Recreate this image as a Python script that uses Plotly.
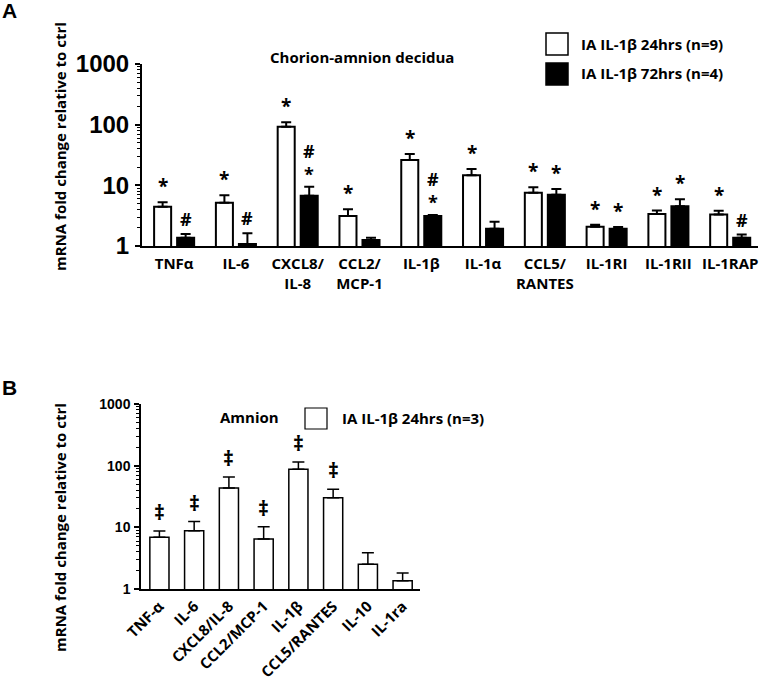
import math
import plotly.graph_objects as go

W, H = 764, 682

# ---------------- Panel A data (Chorion-amnion decidua) ----------------
cats_a = ["TNFα", "IL-6", "CXCL8/<br>IL-8", "CCL2/<br>MCP-1", "IL-1β", "IL-1α",
          "CCL5/<br>RANTES", "IL-1RI", "IL-1RII", "IL-1RAP"]
a24_mean = [4.45, 5.17, 92.5, 3.12, 26.1, 14.6, 7.56, 2.08, 3.37, 3.32]
a24_err = [0.80, 1.70, 17.5, 0.90, 6.70, 4.00, 1.70, 0.17, 0.46, 0.50]
a72_mean = [1.37, 1.08, 6.75, 1.26, 3.12, 1.93, 7.00, 1.93, 4.51, 1.37]
a72_err = [0.21, 0.54, 2.75, 0.11, 0.12, 0.59, 1.70, 0.13, 1.38, 0.17]
# symbols listed top to bottom
a24_sig = ["*", "*", "*", "*", "*", "*", "*", "*", "*", "*"]
a72_sig = ["#", "#", "#*", "", "#*", "", "*", "*", "*", "#"]
legend_a = ["IA IL-1β 24hrs (n=9)", "IA IL-1β 72hrs (n=4)"]

# ---------------- Panel B data (Amnion) ----------------
cats_b = ["TNF-α", "IL-6", "CXCL8/IL-8", "CCL2/MCP-1", "IL-1β", "CCL5/RANTES", "IL-10", "IL-1ra"]
b24_mean = [6.9, 8.8, 43.4, 6.47, 87.6, 30.3, 2.51, 1.36]
b24_err = [1.8, 3.6, 22.1, 3.73, 27.4, 11.1, 1.37, 0.46]
b24_sig = ["‡", "‡", "‡", "‡", "‡", "‡", "", ""]
legend_b = ["IA IL-1β 24hrs (n=3)"]

y_ticks = [1, 10, 100, 1000]
y_minor = [m * d for d in (1, 10, 100) for m in range(2, 10)]

CAL = "'Open Sans', Lato, sans-serif"
SIG = "'Open Sans', 'DejaVu Sans', sans-serif"
ARI = "'Liberation Sans', Arial, sans-serif"


def px(x):
    return x / W


def py(y):
    return 1 - y / H


# layout geometry (pixels)
A_x0, A_x1, A_y0, A_y1 = 142, 758, 64, 246
B_x0, B_x1, B_y0, B_y1 = 141, 420, 404, 589
A_range = [-0.52, 9.45]
B_range = [-0.53, 7.5]
A_bargap, A_groupgap = 0.255, 0.26

fig = go.Figure()

fig.add_trace(go.Bar(
    x=cats_a, y=a24_mean, name=legend_a[0], xaxis="x", yaxis="y",
    marker=dict(color="white", line=dict(color="black", width=2)),
    error_y=dict(type="data", symmetric=False, array=a24_err,
                 arrayminus=[0] * len(a24_err), color="black", thickness=2, width=5),
    showlegend=False,
))
fig.add_trace(go.Bar(
    x=cats_a, y=a72_mean, name=legend_a[1], xaxis="x", yaxis="y",
    marker=dict(color="black", line=dict(color="black", width=2)),
    error_y=dict(type="data", symmetric=False, array=a72_err,
                 arrayminus=[0] * len(a72_err), color="black", thickness=2, width=5),
    showlegend=False,
))
fig.add_trace(go.Bar(
    x=cats_b, y=b24_mean, name=legend_b[0], xaxis="x2", yaxis="y2",
    marker=dict(color="white", line=dict(color="black", width=1.5)),
    error_y=dict(type="data", symmetric=False, array=b24_err,
                 arrayminus=[0] * len(b24_err), color="black", thickness=1.5, width=6),
    showlegend=False,
))

annotations = []

# significance marks, panel A (stacked marks share one text element)
unit_a = (A_x1 - A_x0) / (A_range[1] - A_range[0])
slot = (1 - A_bargap) / 2 * unit_a
for series, means, errs, shift in ((a24_sig, a24_mean, a24_err, -slot / 2),
                                   (a72_sig, a72_mean, a72_err, slot / 2)):
    for c, s, m, e in zip(cats_a, series, means, errs):
        if not s:
            continue
        stacked = len(s) > 1
        annotations.append(dict(
            x=c, y=math.log10(m + e), xref="x", yref="y", text="<br>".join(s),
            showarrow=False, xshift=shift, xanchor="center", yanchor="bottom",
            yshift=-1 if stacked else 1,
            font=dict(family=SIG, size=18 if (stacked or s == "#") else 19,
                      color="black", weight="bold"),
        ))

# significance marks, panel B
for c, s, m, e in zip(cats_b, b24_sig, b24_mean, b24_err):
    if not s:
        continue
    annotations.append(dict(
        x=c, y=math.log10(m + e), xref="x2", yref="y2", text=s, showarrow=False,
        xanchor="center", yanchor="bottom", yshift=3,
        font=dict(family=SIG, size=21, color="black", weight="bold"),
    ))

# titles, labels, legends
txt = dict(family=CAL, size=15, color="black", weight="bold")


def note(x, y, text, font=txt, xanchor="center", angle=0):
    return dict(x=px(x), y=py(y), xref="paper", yref="paper", text=text, showarrow=False,
                xanchor=xanchor, yanchor="middle", textangle=angle, font=font)


big = dict(family=ARI, size=21, color="black", weight="bold")
annotations += [
    note(9, 11, "A", big),
    note(9, 387, "B", big),
    note(362, 57, "Chorion-amnion decidua"),
    note(249, 417, "Amnion"),
    note(60, 147, "mRNA fold change relative to ctrl", angle=-90),
    note(60, 528, "mRNA fold change relative to ctrl", angle=-90),
    note(579, 44, legend_a[0], xanchor="left"),
    note(579, 73, legend_a[1], xanchor="left"),
    note(340, 418, legend_b[0], xanchor="left"),
]

shapes = [
    dict(type="rect", xref="paper", yref="paper", x0=px(546), x1=px(568), y0=py(55), y1=py(33),
         fillcolor="white", line=dict(color="black", width=1.5)),
    dict(type="rect", xref="paper", yref="paper", x0=px(546), x1=px(568), y0=py(85), y1=py(63),
         fillcolor="black", line=dict(color="black", width=1.5)),
    dict(type="rect", xref="paper", yref="paper", x0=px(305), x1=px(327), y0=py(429), y1=py(408),
         fillcolor="white", line=dict(color="black", width=1.2)),
]


def yaxis(domain, anchor, size, lw):
    return dict(
        type="log", range=[0, 3], domain=domain, anchor=anchor, automargin=False,
        tickvals=y_ticks, ticktext=[str(v) for v in y_ticks],
        ticks="outside", ticklen=5, tickwidth=lw, tickcolor="black",
        showline=True, linecolor="black", linewidth=lw,
        showgrid=False, zeroline=False, ticklabelstandoff=1,
        tickfont=dict(family=ARI, size=size, color="black", weight="bold"),
        minor=dict(tickvals=y_minor, ticks="outside", ticklen=3, tickwidth=1,
                   tickcolor="black", showgrid=False),
    )


fig.update_layout(
    width=W, height=H, margin=dict(l=0, r=0, t=0, b=0, pad=0, autoexpand=False),
    paper_bgcolor="white", plot_bgcolor="white",
    barmode="group", bargap=A_bargap, bargroupgap=A_groupgap,
    xaxis=dict(domain=[px(A_x0), px(A_x1)], anchor="y", range=A_range, automargin=False,
               showline=True, linecolor="black", linewidth=2, ticks="",
               showgrid=False, zeroline=False, tickangle=0, ticklabelstandoff=3,
               tickfont=dict(family=CAL, size=15, color="black", weight="bold")),
    yaxis=yaxis([py(A_y1), py(A_y0)], "x", 24, 2),
    xaxis2=dict(domain=[px(B_x0), px(B_x1)], anchor="y2", range=B_range, automargin=False,
                showline=True, linecolor="black", linewidth=1.5, ticks="",
                showgrid=False, zeroline=False, tickangle=-45, ticklabelstandoff=1,
                tickfont=dict(family=CAL, size=15, color="black", weight="bold")),
    yaxis2=yaxis([py(B_y1), py(B_y0)], "x2", 14, 1.5),
    annotations=annotations, shapes=shapes,
)

fig.write_html("out.html", config={"displayModeBar": False},
               post_script="document.body.style.margin='0px';document.body.style.padding='0px';")
